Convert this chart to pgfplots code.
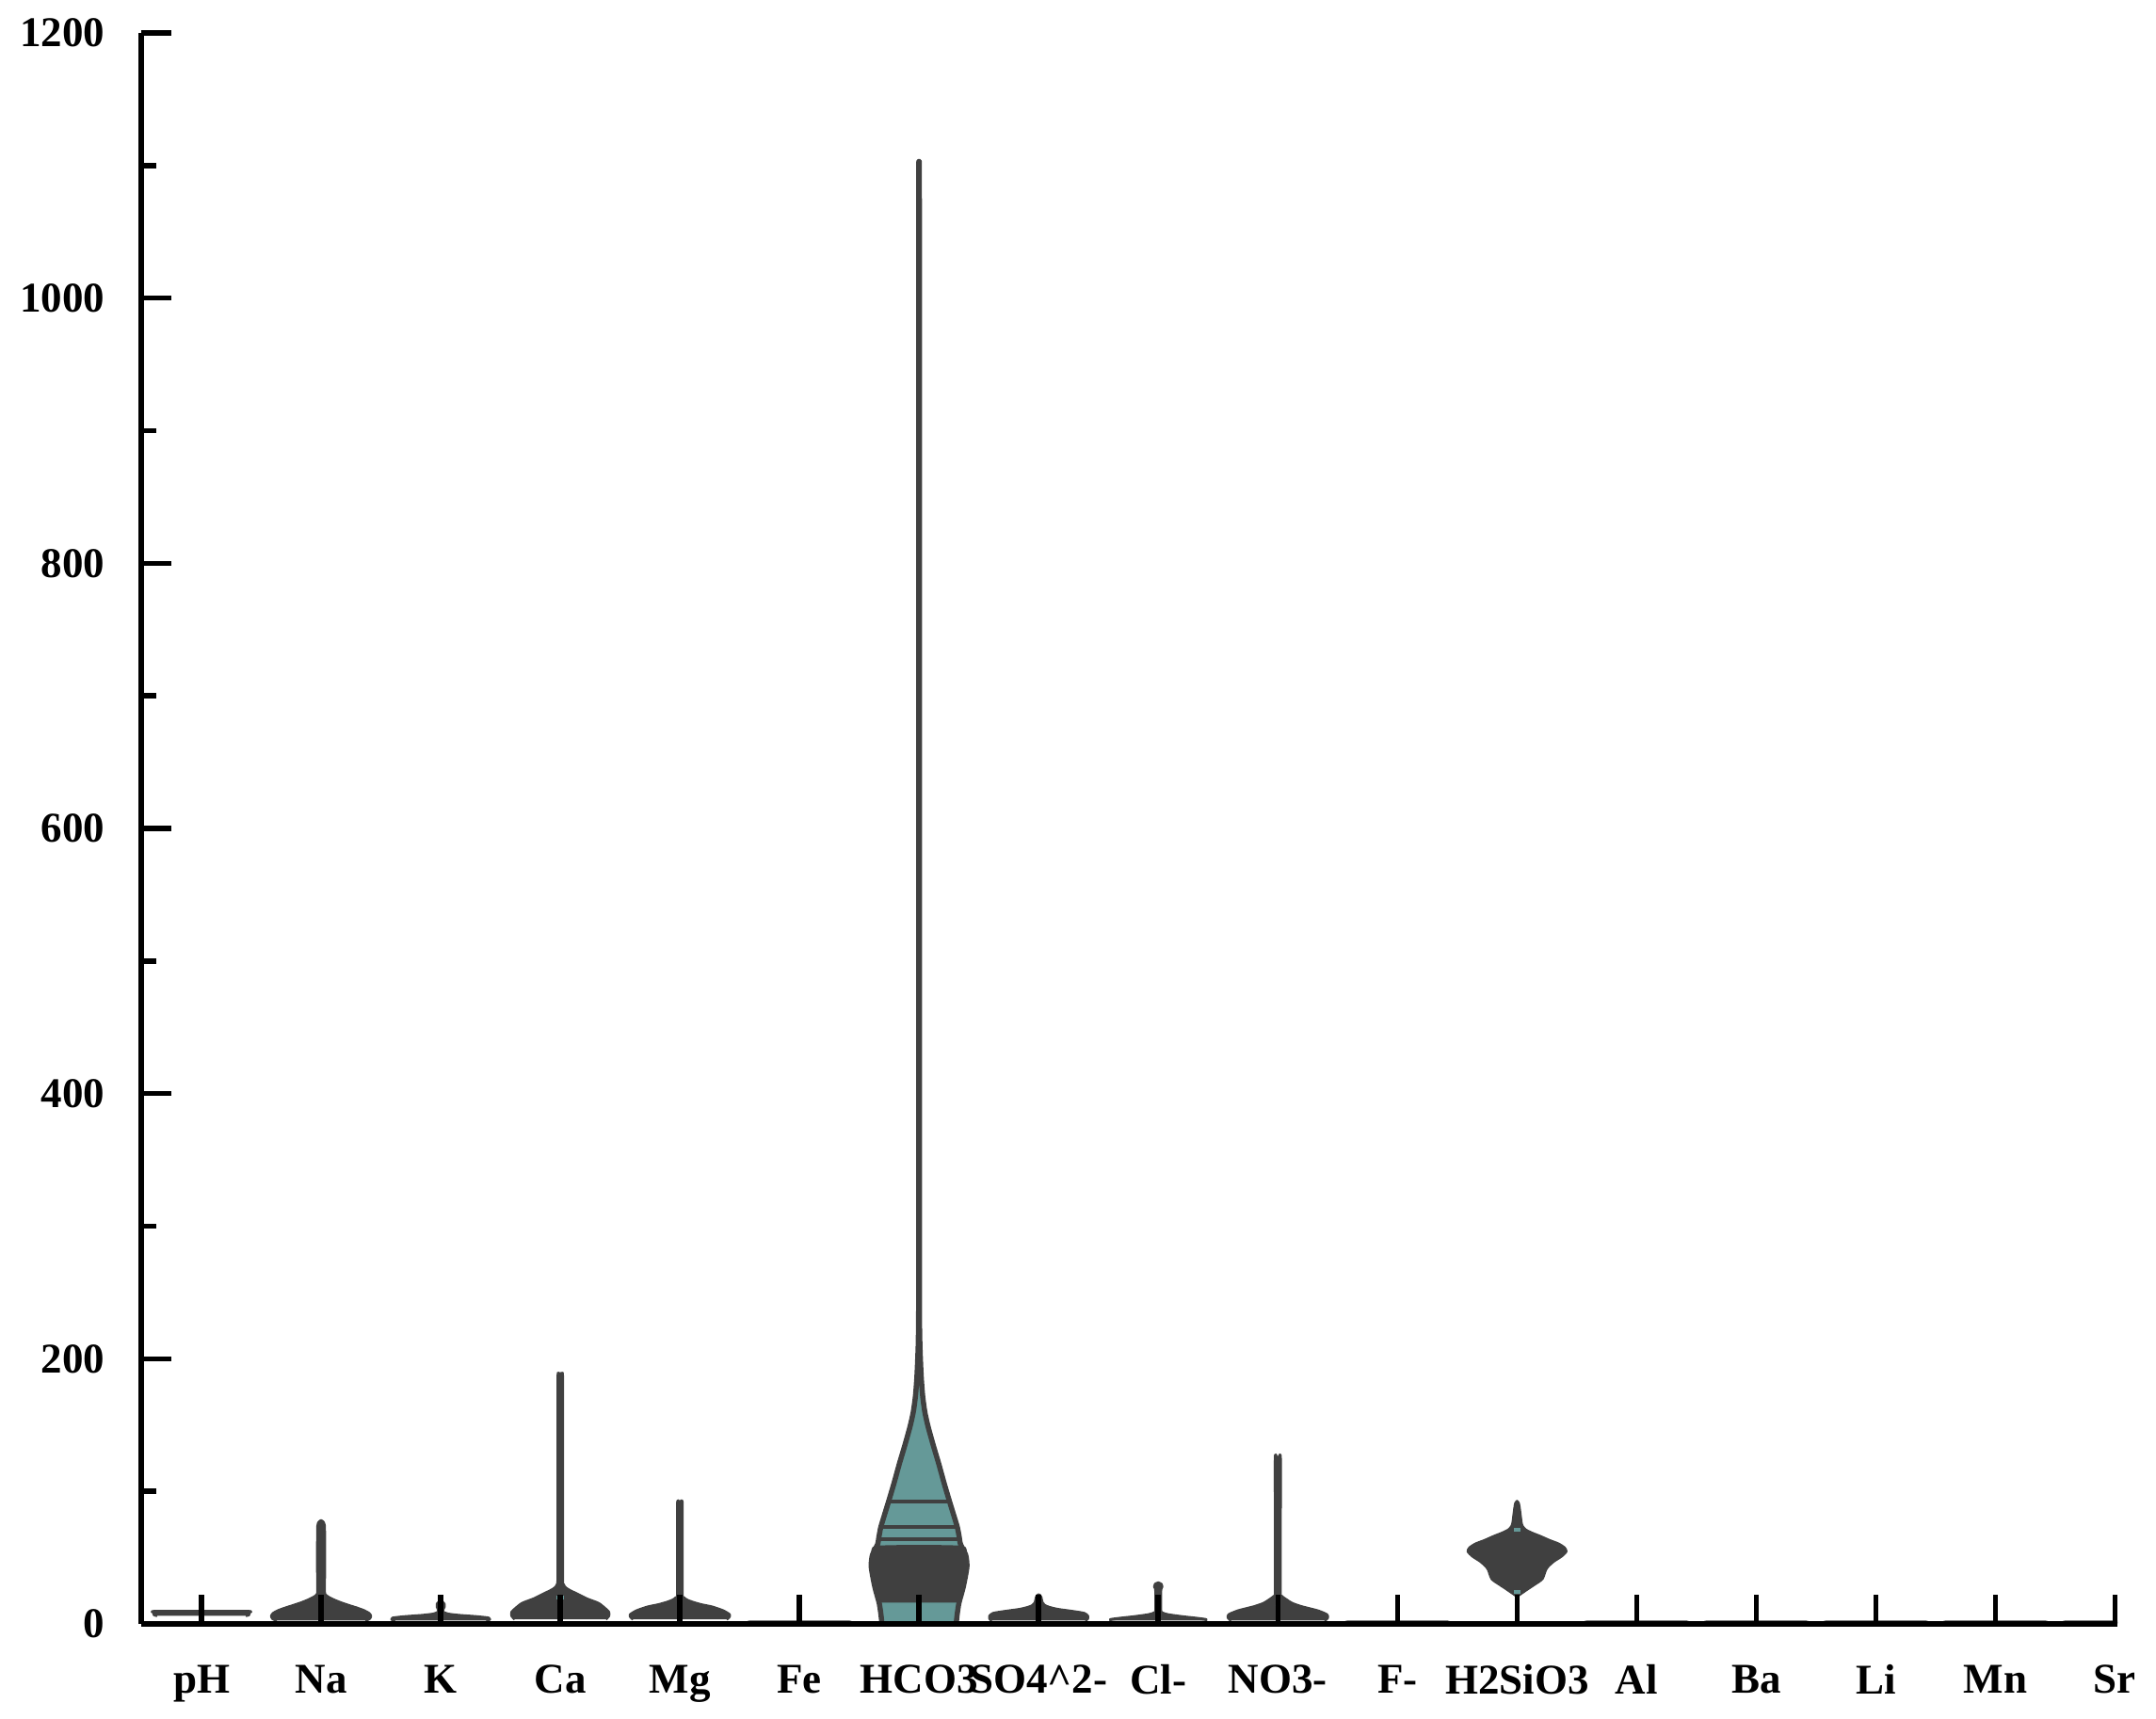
\documentclass[border=0pt]{standalone}
\usepackage{fontspec}
\setmainfont{Liberation Serif}
\usepackage{pgfplots}
\usepackage{pgfplotstable}
\pgfplotsset{compat=1.18}
\definecolor{vdark}{RGB}{64,64,64}
\definecolor{vteal}{RGB}{101,153,152}

\pgfplotstableread{
y w
6.2 0.37
6.8 0.395
7.8 0.40
8.8 0.395
9.5 0.37
}\tpH
\pgfplotstableread{
y w
2.5 0.37
4 0.405
6 0.415
8 0.40
10 0.36
12 0.30
14 0.23
16 0.165
18 0.11
20 0.065
22 0.035
25 0.028
40 0.03
60 0.03
74 0.028
77 0.016
78 0
}\tNa
\pgfplotstableread{
y w
2.5 0.38
3.5 0.41
4.5 0.40
5.5 0.30
6.5 0.15
7.5 0.06
9 0.02
11 0.02
13 0.03
15 0.03
16.5 0.015
17 0
}\tK
\pgfplotstableread{
y w
3.5 0.38
6 0.405
9 0.405
12 0.37
15.6 0.318
19 0.22
22.7 0.138
25 0.085
27 0.048
30 0.025
40 0.02
180 0.02
187 0.012
189 0
}\tCa
\pgfplotstableread{
y w
3.5 0.39
5 0.41
7 0.415
10 0.36
12.8 0.27
14.5 0.18
16.3 0.11
18 0.06
20 0.03
23 0.02
89 0.02
91.5 0.01
92.5 0
}\tMg
\pgfplotstableread{
y w
0.3 0.39
0.9 0.40
1.5 0.39
}\tFlat
\pgfplotstableread{
y w
0 0.31
8 0.32
16 0.334
28 0.37
43 0.40
52 0.39
60 0.347
66 0.335
73 0.32
82 0.29
92 0.256
106 0.21
121 0.164
135 0.118
149 0.075
160 0.048
172 0.030
185 0.019
196 0.013
215 0.006
260 0.003
600 0.003
1000 0.003
1098 0.002
1100 0
}\tHCO
\pgfplotstableread{
y w
2.5 0.39
4 0.41
6 0.41
8 0.38
9.5 0.28
11 0.16
12.5 0.09
14 0.05
16 0.03
20 0.02
21.5 0.01
22 0
}\tSO
\pgfplotstableread{
y w
2.5 0.39
3.3 0.40
4.2 0.33
5.5 0.20
7 0.08
8.5 0.03
11 0.02
26 0.022
28 0.032
30 0.025
31 0
}\tCl
\pgfplotstableread{
y w
2.5 0.39
4.5 0.415
7 0.41
10 0.33
13 0.20
15.5 0.12
18 0.075
21 0.03
24 0.02
122 0.022
125 0.012
126 0
}\tNO
\pgfplotstableread{
y w
21.5 0.01
23.4 0.04
26.5 0.09
29.8 0.145
34 0.21
41 0.24
44 0.265
47.5 0.31
51 0.37
54.7 0.41
57.5 0.395
60.4 0.345
63 0.27
66 0.195
68.5 0.125
71 0.07
74 0.042
77 0.034
82 0.027
87 0.02
91 0.012
92.5 0
}\tSi

% violin: #1 position, #2 table (y, half-width w), #3 fill colour, #4 line width
\newcommand{\violin}[4]{%
  \pgfplotstablegetrowsof{#2}\edef\vN{\pgfplotsretval}%
  \pgfplotstablesort[sort key=y, sort cmp=float <]{\vA}{#2}%
  \pgfplotstablesort[sort key=y, sort cmp=float >]{\vB}{#2}%
  \pgfplotstablevertcat{\vA}{\vB}%
  \addplot[fill=#3, draw=vdark, line width=#4, line join=round, smooth, tension=0.4, forget plot]
    table[x expr={#1+(\coordindex<\vN ? 1 : -1)*\thisrow{w}}, y=y] {\vA};
}

\begin{document}
\begin{tikzpicture}
\begin{axis}[
  scale only axis,
  width=419.8pt, height=338pt,
  xmin=-0.504, xmax=16.02, ymin=0, ymax=1200,
  axis lines=left,
  axis line style={-, line width=1.1pt, black},
  tick style={line width=1.1pt, black},
  tick align=inside,
  major tick length=6.3pt, minor tick length=3.2pt,
  xtick={0,...,16},
  xticklabels={pH,Na,K,Ca,Mg,Fe,HCO3,SO4\textasciicircum 2-,Cl-,NO3-,F-,H2SiO3,Al,Ba,Li,Mn,Sr},
  ytick={0,200,...,1200},
  minor ytick={100,300,...,1100},
  tick label style={font=\fontsize{9}{10}\selectfont\bfseries},
  /pgf/number format/assume math mode=true,
  /pgf/number format/1000 sep={},
  yticklabel style={xshift=-4.2pt},
  xticklabel style={yshift=-5.2pt},
  axis on top,
  clip=true,
]
\violin{0}{\tpH}{vdark}{0.6pt}
\violin{1}{\tNa}{vdark}{0.6pt}
\violin{2}{\tK}{vdark}{0.6pt}
\violin{3}{\tCa}{vdark}{0.6pt}
\violin{4}{\tMg}{vdark}{0.6pt}
\violin{5}{\tFlat}{vdark}{0.6pt}
\violin{6}{\tHCO}{vteal}{1.1pt}
\violin{7}{\tSO}{vdark}{0.6pt}
\violin{8}{\tCl}{vdark}{0.6pt}
\violin{9}{\tNO}{vdark}{0.6pt}
\violin{10}{\tFlat}{vdark}{0.6pt}
\violin{11}{\tSi}{vdark}{0.6pt}
\violin{12}{\tFlat}{vdark}{0.6pt}
\violin{13}{\tFlat}{vdark}{0.6pt}
\violin{14}{\tFlat}{vdark}{0.6pt}
\violin{15}{\tFlat}{vdark}{0.6pt}
\violin{16}{\tFlat}{vdark}{0.6pt}
% HCO3 interior: dark band and quantile lines
\addplot[fill=vdark, draw=none, smooth, tension=0.4] coordinates {
  (5.666,16) (5.63,28) (5.60,43) (5.61,52) (5.65,59)
  (6.35,59) (6.39,52) (6.40,43) (6.37,28) (6.334,16)};
\addplot[vdark, line width=0.7pt] coordinates {(5.66,64) (6.34,64)};
\addplot[vdark, line width=0.8pt] coordinates {(5.68,73) (6.32,73)};
\addplot[vdark, line width=0.8pt] coordinates {(5.744,92) (6.256,92)};
% small teal median marks
\addplot[vteal, line width=0.8pt] coordinates {(2.97,20) (3.03,20)};
\addplot[vteal, line width=0.6pt] coordinates {(3.98,13) (4.02,13)};
\addplot[vteal, line width=0.6pt] coordinates {(8.98,13) (9.02,13)};
\addplot[vteal, line width=0.8pt] coordinates {(10.975,71) (11.025,71)};
\addplot[vteal, line width=0.8pt] coordinates {(10.975,24) (11.025,24)};
\end{axis}
\pgfresetboundingbox
\path[use as bounding box] (-30pt,-20pt) rectangle (428pt,345pt);
\end{tikzpicture}
\end{document}
